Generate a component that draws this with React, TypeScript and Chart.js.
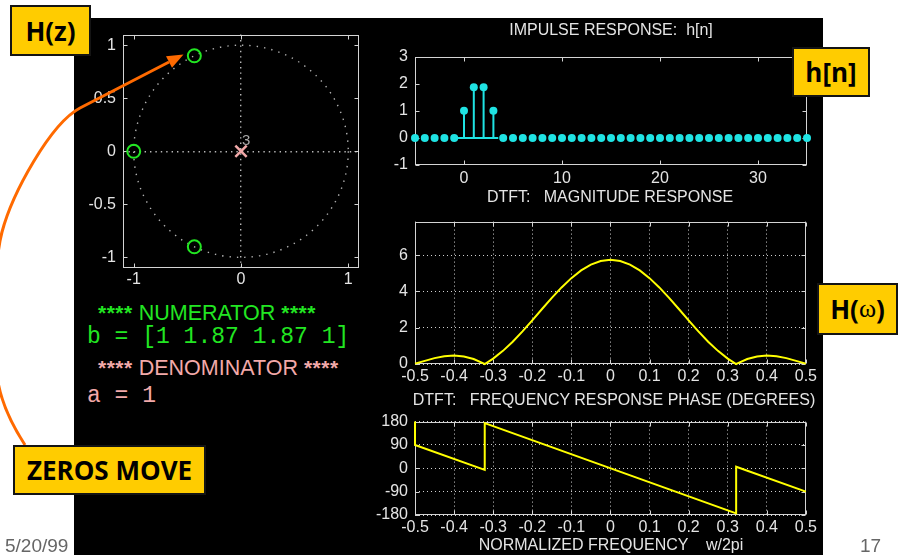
import React, { useEffect, useRef } from 'react';
import { Chart, registerables } from 'chart.js';

Chart.register(...registerables);

// ---------- data ----------
// Pole-zero plot
const ZERO_RE = [-1, -0.435, -0.435];
const ZERO_IM = [0, 0.9, -0.9];
const POLE_RE = [0];
const POLE_IM = [0];
const POLE_ORDER = '3';
const PZ_TICKS_X = [-1, 0, 1];
const PZ_TICKS_Y = [-1, -0.5, 0, 0.5, 1];

// Impulse response h[n], n from -5 to 35
const HN_START = -5;
const HN_VALUES = [
  0, 0, 0, 0, 0,
  1, 1.87, 1.87, 1,
  0, 0, 0, 0, 0, 0, 0, 0, 0, 0, 0, 0, 0, 0, 0, 0,
  0, 0, 0, 0, 0, 0, 0, 0, 0, 0, 0, 0, 0, 0, 0, 0,
];
const HN_TICKS_X = [0, 10, 20, 30];
const HN_TICKS_Y = [-1, 0, 1, 2, 3];

// Magnitude response
const MAG_FREQ = [
  -0.5, -0.475, -0.45, -0.425, -0.4, -0.375, -0.35, -0.325, -0.3216, -0.3, -0.275, -0.25,
  -0.225, -0.2, -0.175, -0.15, -0.125, -0.1, -0.075, -0.05, -0.025, 0,
  0.025, 0.05, 0.075, 0.1, 0.125, 0.15, 0.175, 0.2, 0.225, 0.25, 0.275, 0.3, 0.3216,
  0.325, 0.35, 0.375, 0.4, 0.425, 0.45, 0.475, 0.5,
];
const MAG_VALUES = [
  0.02, 0.173, 0.323, 0.426, 0.462, 0.417, 0.277, 0.04, 0, 0.296, 0.724, 1.23,
  1.799, 2.408, 3.032, 3.645, 4.221, 4.733, 5.157, 5.476, 5.673, 5.74,
  5.673, 5.476, 5.157, 4.733, 4.221, 3.645, 3.032, 2.408, 1.799, 1.23, 0.724, 0.296, 0,
  0.04, 0.277, 0.417, 0.462, 0.426, 0.323, 0.173, 0.02,
];
const MAG_TICKS_Y = [0, 2, 4, 6];
const FREQ_TICKS = [-0.5, -0.4, -0.3, -0.2, -0.1, 0, 0.1, 0.2, 0.3, 0.4, 0.5];

// Phase response (degrees)
const PHASE_FREQ = [-0.5, -0.5, -0.3216, -0.3216, 0.3216, 0.3216, 0.5];
const PHASE_DEG = [180, 90, -6, 174, -174, 6, -90];
const PHASE_TICKS_Y = [-180, -90, 0, 90, 180];

// ---------- styles ----------
const FONT = '"Liberation Sans", Arial, Helvetica, sans-serif';
const MONO = '"Liberation Mono", "Courier New", monospace';
const AXIS_TEXT = '#e4e4e4';
const BOX = '#d4d4d4';
const GRID = '#cfcfcf';
const GREEN = '#22e622';
const PINK = '#f2a9a9';
const CYAN = '#1fe3e3';
const YELLOW = '#ffff00';
const ORANGE = '#ff6a00';

const tickFont = { family: FONT, size: 16 };

const boxPlugin = {
  id: 'matlabBox',
  beforeDatasetsDraw(chart: any) {
    const { ctx, chartArea: a, scales } = chart;
    ctx.save();
    ctx.setLineDash([]);
    ctx.strokeStyle = BOX;
    ctx.lineWidth = 1;
    const l = Math.round(a.left) + 0.5;
    const t = Math.round(a.top) + 0.5;
    const r = Math.round(a.right) - 0.5;
    const b = Math.round(a.bottom) - 0.5;
    ctx.strokeRect(l, t, r - l, b - t);
    const tl = 4;
    ctx.beginPath();
    scales.x.ticks.forEach((tk: any) => {
      const px = Math.round(scales.x.getPixelForValue(tk.value)) + 0.5;
      ctx.moveTo(px, t);
      ctx.lineTo(px, t + tl);
      ctx.moveTo(px, b);
      ctx.lineTo(px, b - tl);
    });
    scales.y.ticks.forEach((tk: any) => {
      const py = Math.round(scales.y.getPixelForValue(tk.value)) + 0.5;
      ctx.moveTo(l, py);
      ctx.lineTo(l + tl, py);
      ctx.moveTo(r, py);
      ctx.lineTo(r - tl, py);
    });
    ctx.stroke();
    ctx.restore();
  },
};

function axis(opts: {
  min: number;
  max: number;
  ticks: number[];
  size: number;
  isX: boolean;
  pad: number;
  grid?: any;
  dash?: number[];
}) {
  return {
    type: 'linear',
    position: opts.isX ? 'bottom' : 'left',
    min: opts.min,
    max: opts.max,
    afterBuildTicks: (s: any) => {
      s.ticks = opts.ticks.map((v) => ({ value: v }));
    },
    afterFit: (s: any) => {
      if (opts.isX) s.height = opts.size;
      else s.width = opts.size;
    },
    grid: opts.grid || { display: false, drawTicks: false },
    border: { display: false, dash: opts.dash || [1, 3] },
    ticks: {
      color: AXIS_TEXT,
      font: tickFont,
      padding: opts.pad,
      autoSkip: false,
      maxRotation: 0,
      minRotation: 0,
      callback: (v: any) => String(v),
    },
  };
}

const dottedGrid = { display: true, drawTicks: false, color: GRID, lineWidth: 1 };

function baseOptions(padding: any, scales: any) {
  return {
    responsive: false,
    animation: false,
    devicePixelRatio: 1,
    events: [],
    layout: { padding },
    plugins: { legend: { display: false }, tooltip: { enabled: false }, title: { display: false } },
    scales,
  };
}

function makePZ(): any {
  const pzPlugin = {
    id: 'pzExtras',
    beforeDatasetsDraw(chart: any) {
      const { ctx, scales } = chart;
      const cx = scales.x.getPixelForValue(0);
      const cy = scales.y.getPixelForValue(0);
      const rx = scales.x.getPixelForValue(1) - cx;
      const ry = cy - scales.y.getPixelForValue(1);
      ctx.save();
      ctx.strokeStyle = '#b0b0b0';
      ctx.lineWidth = 1.4;
      ctx.setLineDash([1.4, 6]);
      ctx.beginPath();
      ctx.ellipse(cx, cy, rx, ry, 0, 0, Math.PI * 2);
      ctx.stroke();
      ctx.restore();
    },
    afterDatasetsDraw(chart: any) {
      const { ctx, scales } = chart;
      ctx.save();
      ctx.fillStyle = '#a8a8a8';
      ctx.font = `15px ${FONT}`;
      ctx.textAlign = 'left';
      ctx.textBaseline = 'bottom';
      POLE_RE.forEach((re, i) => {
        const px = scales.x.getPixelForValue(re);
        const py = scales.y.getPixelForValue(POLE_IM[i]);
        ctx.fillText(POLE_ORDER, px + 1, py - 3);
      });
      ctx.restore();
    },
  };
  const pzGrid = {
    display: true,
    drawTicks: false,
    lineWidth: 1.4,
    color: (c: any) => (c.tick && c.tick.value === 0 ? '#b8b8b8' : 'transparent'),
  };
  return {
    type: 'scatter',
    data: {
      datasets: [
        {
          data: ZERO_RE.map((re, i) => ({ x: re, y: ZERO_IM[i] })),
          pointStyle: 'circle',
          pointRadius: 6.5,
          borderColor: GREEN,
          backgroundColor: 'transparent',
          borderWidth: 2,
          clip: false,
        },
        {
          data: POLE_RE.map((re, i) => ({ x: re, y: POLE_IM[i] })),
          pointStyle: 'crossRot',
          pointRadius: 8,
          borderColor: PINK,
          backgroundColor: PINK,
          borderWidth: 2.5,
          clip: false,
        },
      ],
    },
    options: baseOptions(
      { left: 0, top: 15, right: 21, bottom: 0 },
      {
        x: axis({ min: -1.1, max: 1.1, ticks: PZ_TICKS_X, size: 32, isX: true, pad: 2, grid: pzGrid, dash: [1.4, 4] }),
        y: axis({ min: -1.1, max: 1.1, ticks: PZ_TICKS_Y, size: 49, isX: false, pad: 7, grid: pzGrid, dash: [1.4, 4] }),
      }
    ),
    plugins: [boxPlugin, pzPlugin],
  };
}

function makeImpulse(): any {
  const stemPlugin = {
    id: 'stems',
    beforeDatasetsDraw(chart: any) {
      const { ctx, scales } = chart;
      const y0 = scales.y.getPixelForValue(0);
      const nz: number[] = [];
      HN_VALUES.forEach((v, i) => {
        if (v !== 0) nz.push(HN_START + i);
      });
      ctx.save();
      ctx.strokeStyle = CYAN;
      ctx.lineWidth = 2;
      ctx.beginPath();
      if (nz.length) {
        ctx.moveTo(scales.x.getPixelForValue(nz[0] - 0.7), y0);
        ctx.lineTo(scales.x.getPixelForValue(nz[nz.length - 1] + 0.5), y0);
      }
      HN_VALUES.forEach((v, i) => {
        if (v === 0) return;
        const px = scales.x.getPixelForValue(HN_START + i);
        ctx.moveTo(px, y0);
        ctx.lineTo(px, scales.y.getPixelForValue(v));
      });
      ctx.stroke();
      ctx.restore();
    },
  };
  return {
    type: 'scatter',
    data: {
      datasets: [
        {
          data: HN_VALUES.map((v, i) => ({ x: HN_START + i, y: v })),
          pointStyle: 'circle',
          pointRadius: 4,
          borderWidth: 0,
          backgroundColor: CYAN,
          borderColor: CYAN,
          clip: false,
        },
      ],
    },
    options: baseOptions(
      { left: 0, top: 12, right: 13, bottom: 0 },
      {
        x: axis({ min: -5, max: 35, ticks: HN_TICKS_X, size: 25, isX: true, pad: 4 }),
        y: axis({ min: -1, max: 3, ticks: HN_TICKS_Y, size: 45, isX: false, pad: 7 }),
      }
    ),
    plugins: [boxPlugin, stemPlugin],
  };
}

function makeMag(): any {
  return {
    type: 'line',
    data: {
      datasets: [
        {
          data: MAG_FREQ.map((f, i) => ({ x: f, y: MAG_VALUES[i] })),
          borderColor: YELLOW,
          borderWidth: 2,
          pointRadius: 0,
          tension: 0,
          fill: false,
          clip: false,
        },
      ],
    },
    options: baseOptions(
      { left: 0, top: 10, right: 13, bottom: 0 },
      {
        x: axis({ min: -0.5, max: 0.5, ticks: FREQ_TICKS, size: 26, isX: true, pad: 3, grid: dottedGrid }),
        y: axis({ min: 0, max: 7.85, ticks: MAG_TICKS_Y, size: 45, isX: false, pad: 7, grid: dottedGrid }),
      }
    ),
    plugins: [boxPlugin],
  };
}

function makePhase(): any {
  return {
    type: 'line',
    data: {
      datasets: [
        {
          data: PHASE_FREQ.map((f, i) => ({ x: f, y: PHASE_DEG[i] })),
          borderColor: YELLOW,
          borderWidth: 2,
          pointRadius: 0,
          tension: 0,
          fill: false,
          clip: false,
        },
      ],
    },
    options: baseOptions(
      { left: 0, top: 10, right: 13, bottom: 0 },
      {
        x: axis({ min: -0.5, max: 0.5, ticks: FREQ_TICKS, size: 40, isX: true, pad: 3, grid: dottedGrid }),
        y: axis({ min: -180, max: 180, ticks: PHASE_TICKS_Y, size: 45, isX: false, pad: 7, grid: dottedGrid }),
      }
    ),
    plugins: [boxPlugin],
  };
}

function ChartBox(props: { left: number; top: number; width: number; height: number; make: () => any }) {
  const ref = useRef<HTMLCanvasElement>(null);
  useEffect(() => {
    const chart = new Chart(ref.current as HTMLCanvasElement, props.make());
    return () => chart.destroy();
  }, []);
  return (
    <canvas
      ref={ref}
      width={props.width}
      height={props.height}
      style={{ position: 'absolute', left: props.left, top: props.top, width: props.width, height: props.height }}
    />
  );
}

const centered = (x: number, y: number): React.CSSProperties => ({
  position: 'absolute',
  left: x,
  top: y,
  transform: 'translate(-50%, -50%)',
  whiteSpace: 'pre',
  lineHeight: 1,
  fontFamily: FONT,
  fontSize: 16,
  color: AXIS_TEXT,
});

const lefty = (x: number, y: number): React.CSSProperties => ({
  position: 'absolute',
  left: x,
  top: y,
  transform: 'translateY(-50%)',
  whiteSpace: 'pre',
  lineHeight: 1,
});

const tag = (left: number, top: number, width: number, height: number): React.CSSProperties => ({
  position: 'absolute',
  left,
  top,
  width,
  height,
  boxSizing: 'border-box',
  background: '#ffcc00',
  border: '2px solid #141414',
  display: 'flex',
  alignItems: 'center',
  justifyContent: 'center',
  fontFamily: '"Open Sans", "DejaVu Sans", sans-serif',
  fontWeight: 700,
  fontSize: 26,
  color: '#000',
  whiteSpace: 'pre',
});

const star: React.CSSProperties = { fontSize: 21, fontWeight: 700, letterSpacing: 0.5 };

export default function App() {
  return (
    <div
      style={{
        position: 'absolute',
        left: 0,
        top: 0,
        width: 920,
        height: 555,
        background: '#ffffff',
        overflow: 'hidden',
      }}
    >
      <div style={{ position: 'absolute', left: 74, top: 18, width: 749, height: 537, background: '#000' }} />

      <ChartBox left={74} top={18} width={306} height={282} make={makePZ} />
      <ChartBox left={370} top={40} width={450} height={150} make={makeImpulse} />
      <ChartBox left={370} top={205} width={450} height={185} make={makeMag} />
      <ChartBox left={370} top={405} width={450} height={150} make={makePhase} />

      <div style={centered(611, 30)}>{'IMPULSE RESPONSE:  h[n]'}</div>
      <div style={centered(610, 197)}>{'DTFT:   MAGNITUDE RESPONSE'}</div>
      <div style={centered(614, 400)}>{'DTFT:   FREQUENCY RESPONSE PHASE (DEGREES)'}</div>
      <div style={centered(611, 545)}>{'NORMALIZED FREQUENCY    w/2pi'}</div>

      <div style={{ ...lefty(98, 313), color: GREEN, fontFamily: FONT, fontSize: 21.5 }}>
        <span style={star}>****</span> NUMERATOR <span style={star}>****</span>
      </div>
      <div style={{ ...lefty(87, 337), color: GREEN, fontFamily: MONO, fontSize: 23 }}>
        {'b = [1 1.87 1.87 1]'}
      </div>
      <div style={{ ...lefty(98, 368), color: PINK, fontFamily: FONT, fontSize: 21.5 }}>
        <span style={star}>****</span> DENOMINATOR <span style={star}>****</span>
      </div>
      <div style={{ ...lefty(87, 396), color: PINK, fontFamily: MONO, fontSize: 23 }}>
        {'a = 1'}
      </div>

      <svg width={920} height={555} style={{ position: 'absolute', left: 0, top: 0, overflow: 'visible', pointerEvents: 'none' }}>
        <path
          d="M25,445 C12,425 2,405 -2,382 S-8,270 2,232 S50,124 80,108 L169,62"
          fill="none"
          stroke={ORANGE}
          strokeWidth={3}
        />
        <polygon points="183.5,54.5 172,67.8 166,56.2" fill={ORANGE} />
      </svg>

      <div style={tag(10, 5, 81, 51)}>H(z)</div>
      <div style={tag(792, 47, 78, 50)}>h[n]</div>
      <div style={tag(817, 283, 81, 52)}>
        H(<span style={{ fontFamily: '"Liberation Serif", "DejaVu Serif", serif', fontWeight: 400 }}>ω</span>)
      </div>
      <div style={tag(13, 445, 193, 50)}>ZEROS MOVE</div>

      <div style={{ ...lefty(5, 545), color: '#666', fontFamily: FONT, fontSize: 19 }}>5/20/99</div>
      <div style={{ ...lefty(860, 545), color: '#666', fontFamily: FONT, fontSize: 19 }}>17</div>
    </div>
  );
}
